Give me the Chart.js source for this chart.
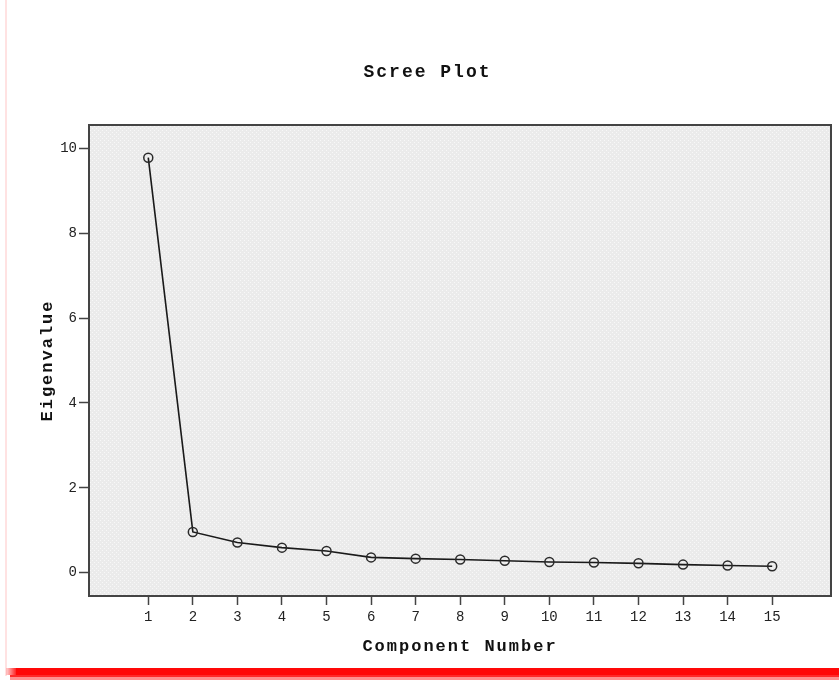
<!DOCTYPE html>
<html>
<head>
<meta charset="utf-8">
<title>Scree Plot</title>
<script src="https://cdn.jsdelivr.net/npm/chart.js@4"></script>
<style>
    html, body { margin: 0; padding: 0; background: #fff; }
    #screeChart { display: block; }
</style>
</head>
<body>
<canvas id="screeChart" width="839" height="680"></canvas>
<script>
// Scree plot data
const components = [1, 2, 3, 4, 5, 6, 7, 8, 9, 10, 11, 12, 13, 14, 15];
const eigenvalues = [9.78, 0.96, 0.71, 0.59, 0.51, 0.36, 0.33, 0.31, 0.28, 0.25, 0.24, 0.22, 0.19, 0.17, 0.15];
const yTicks = [0, 2, 4, 6, 8, 10];
const xTicks = components;

const monoFont = "'Liberation Mono', 'Courier New', monospace";

// dotted grey fill used by the plot area
function makeDotPattern(ctx) {
    const p = document.createElement('canvas');
    p.width = 4;
    p.height = 4;
    const pc = p.getContext('2d');
    pc.fillStyle = '#ebebeb';
    pc.fillRect(0, 0, 4, 4);
    pc.fillStyle = '#f8f8f8';
    pc.fillRect(0, 0, 1, 1);
    pc.fillRect(2, 2, 1, 1);
    return ctx.createPattern(p, 'repeat');
}

// wraps a draw function so its text is spaced out a little, like the original bitmap font
function spaced(obj, name, spacing) {
    if (!obj || obj['_spaced_' + name]) return;
    const orig = obj[name];
    obj[name] = function() {
        const ctx = this.ctx;
        ctx.save();
        ctx.letterSpacing = spacing;
        orig.apply(this, arguments);
        ctx.restore();
    };
    obj['_spaced_' + name] = true;
}

const framePlugin = {
    id: 'frame',
    afterLayout(chart) {
        spaced(chart.titleBlock, 'draw', '2px');
        spaced(chart.scales.x, 'drawTitle', '2px');
        spaced(chart.scales.y, 'drawTitle', '2px');
    },
    beforeDraw(chart) {
        const ctx = chart.ctx;
        const a = chart.chartArea;
        ctx.save();
        ctx.fillStyle = '#ffffff';
        ctx.fillRect(0, 0, chart.width, chart.height);
        // faint pink page edge on the left
        ctx.fillStyle = '#ffe2e2';
        ctx.fillRect(5, 0, 2, 676);
        // plot background
        ctx.fillStyle = makeDotPattern(ctx);
        ctx.fillRect(a.left, a.top, a.right - a.left, a.bottom - a.top);
        ctx.restore();
    },
    beforeDatasetsDraw(chart) {
        const ctx = chart.ctx;
        const a = chart.chartArea;
        ctx.save();
        ctx.strokeStyle = '#444444';
        ctx.lineWidth = 2;
        ctx.strokeRect(a.left, a.top, a.right - a.left, a.bottom - a.top);
        ctx.restore();
    },
    afterDraw(chart) {
        // red band along the bottom of the page
        const ctx = chart.ctx;
        ctx.save();
        const fade = ctx.createLinearGradient(6, 0, 18, 0);
        fade.addColorStop(0, 'rgba(255,0,0,0.15)');
        fade.addColorStop(1, 'rgba(255,0,0,1)');
        ctx.fillStyle = '#ff0808';
        ctx.fillRect(16, 668, chart.width - 16, 7);
        ctx.fillStyle = fade;
        ctx.fillRect(6, 668, 10, 7);
        ctx.fillStyle = '#ff2a2a';
        ctx.fillRect(10, 675, chart.width - 10, 2);
        ctx.fillStyle = '#ff9090';
        ctx.fillRect(10, 677, chart.width - 10, 3);
        ctx.restore();
    }
};

const ctx = document.getElementById('screeChart').getContext('2d');

new Chart(ctx, {
    type: 'line',
    data: {
        datasets: [{
            label: 'Eigenvalue',
            data: components.map((c, i) => ({ x: c, y: eigenvalues[i] })),
            borderColor: '#1a1a1a',
            borderWidth: 1.6,
            tension: 0,
            fill: false,
            pointRadius: 4.5,
            pointBorderWidth: 1.5,
            pointBorderColor: '#2a2a2a',
            pointBackgroundColor: 'rgba(0,0,0,0)'
        }]
    },
    options: {
        responsive: false,
        animation: false,
        events: [],
        layout: {
            padding: { left: 24, right: 8, top: 0, bottom: 0 }
        },
        plugins: {
            legend: { display: false },
            tooltip: { enabled: false },
            title: {
                display: true,
                text: 'Scree Plot',
                color: '#111',
                font: { family: monoFont, size: 18, weight: 'bold', lineHeight: 1.2 },
                padding: { top: 62, bottom: 41.4 }
            }
        },
        scales: {
            x: {
                type: 'linear',
                min: -0.33,
                max: 16.32,
                afterBuildTicks(axis) {
                    axis.ticks = xTicks.map(v => ({ value: v }));
                },
                afterFit(axis) {
                    axis.height = 84;
                },
                border: { display: false },
                grid: {
                    drawOnChartArea: false,
                    drawTicks: true,
                    tickLength: 9,
                    tickWidth: 1.5,
                    tickColor: '#444'
                },
                ticks: {
                    color: '#222',
                    padding: 4,
                    maxRotation: 0,
                    font: { family: monoFont, size: 14 }
                },
                title: {
                    display: true,
                    text: 'Component Number',
                    color: '#111',
                    font: { family: monoFont, size: 17, weight: 'bold', lineHeight: 1.2 },
                    padding: { top: 0, bottom: 22.8 }
                }
            },
            y: {
                type: 'linear',
                min: -0.55,
                max: 10.55,
                afterBuildTicks(axis) {
                    axis.ticks = yTicks.map(v => ({ value: v }));
                },
                afterFit(axis) {
                    axis.width = 65;
                },
                border: { display: false },
                grid: {
                    drawOnChartArea: false,
                    drawTicks: true,
                    tickLength: 10,
                    tickWidth: 1.5,
                    tickColor: '#444'
                },
                ticks: {
                    color: '#222',
                    padding: 2,
                    font: { family: monoFont, size: 14 }
                },
                title: {
                    display: true,
                    text: 'Eigenvalue',
                    color: '#111',
                    font: { family: monoFont, size: 17, weight: 'bold', lineHeight: 1.2 },
                    padding: { top: 13.8, bottom: 0 }
                }
            }
        }
    },
    plugins: [framePlugin]
});
</script>
</body>
</html>
